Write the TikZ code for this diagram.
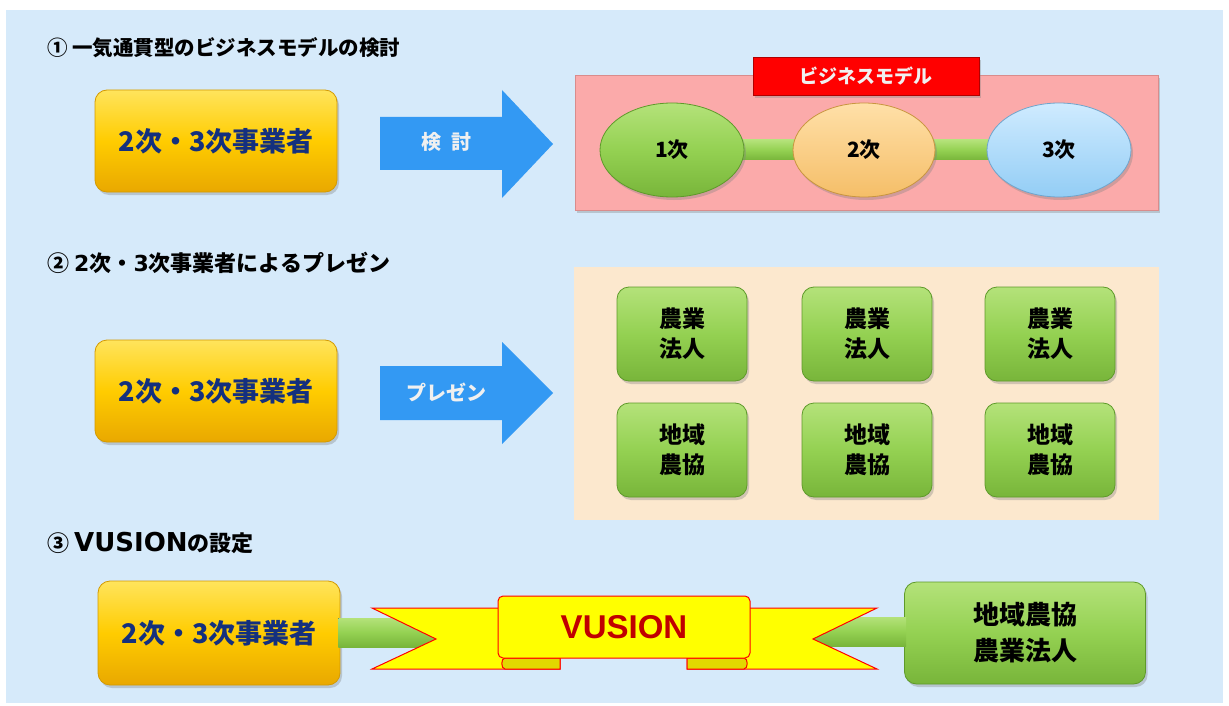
\documentclass[tikz,border=0pt]{standalone}
\usepackage{fontspec}
\setmainfont{Noto Sans CJK JP}
\newfontfamily\arialf{Liberation Sans}
\newfontfamily\dejavu{DejaVu Sans}
\newcommand{\lat}[1]{{\dejavu\bfseries #1}}
\usetikzlibrary{shapes.geometric,shadows,calc}
\definecolor{bgblue}{HTML}{D6EAFA}
\definecolor{ylTop}{HTML}{FFE45C}
\definecolor{ylMid}{HTML}{FFCC00}
\definecolor{ylBot}{HTML}{E9A800}
\definecolor{ylEdge}{HTML}{D49A00}
\definecolor{navy}{HTML}{14307E}
\definecolor{arrowblue}{HTML}{3399F3}
\definecolor{pinkbg}{HTML}{FBAAAA}
\definecolor{pinkEdge}{HTML}{D98C8C}
\definecolor{redT}{HTML}{FF0000}
\definecolor{redEdge}{HTML}{B00000}
\definecolor{grTop}{HTML}{B4E27A}
\definecolor{grMid}{HTML}{94D152}
\definecolor{grBot}{HTML}{78B53A}
\definecolor{grEdge}{HTML}{5E9A2A}
\definecolor{orTop}{HTML}{FFE0A8}
\definecolor{orBot}{HTML}{F5BE68}
\definecolor{orEdge}{HTML}{C9953F}
\definecolor{lbTop}{HTML}{CFEBFF}
\definecolor{lbBot}{HTML}{93CDF5}
\definecolor{lbEdge}{HTML}{6FA5CC}
\definecolor{beige}{HTML}{FCE8CE}
\definecolor{ribYellow}{HTML}{FFFF00}
\definecolor{foldYellow}{HTML}{E2D800}
\definecolor{ribRed}{HTML}{FF0000}
\definecolor{vusRed}{HTML}{C00000}
\definecolor{lightgrayT}{HTML}{F0F0F0}
\begin{document}
\begin{tikzpicture}[x=1pt,y=-1pt,
  heading/.style={anchor=west, inner sep=0pt, font=\fontsize{22}{26}\selectfont\bfseries},
  shadowed/.style={drop shadow={shadow xshift=2pt, shadow yshift=-3pt, opacity=0.35}},
  yellowbox/.style={shadowed, rounded corners=12pt, minimum width=242pt, minimum height=102pt,
    top color=ylTop, bottom color=ylBot, middle color=ylMid, draw=ylEdge, line width=0.8pt,
    text=navy, font=\fontsize{27}{30}\selectfont\bfseries},
  greenbox/.style={shadowed, rounded corners=12pt, minimum width=130pt, minimum height=94pt,
    top color=grTop, bottom color=grBot, middle color=grMid, draw=grEdge, line width=0.8pt,
    align=center, text=black, font=\fontsize{23}{30}\selectfont\bfseries},
  bigarrow/.style={fill=arrowblue},
  arrowlabel/.style={text=lightgrayT, font=\fontsize{20}{24}\selectfont\bfseries},
  ovalnode/.style={ellipse, shadowed, minimum width=144pt, minimum height=94pt, line width=0.8pt,
    text=black, font=\fontsize{21}{24}\selectfont\bfseries},
  bar/.style={top color=grTop, bottom color=grBot, middle color=grMid},
  ribbon/.style={fill=ribYellow, draw=ribRed, line width=1pt, line join=miter}
]
\useasboundingbox (0,0) rectangle (1229,706);
\fill[white] (0,0) rectangle (1229,706);
\fill[bgblue] (6,10) rectangle (1223,703);

% ---------- Section 1 ----------
\node[heading, font=\fontsize{20.5}{24}\selectfont\bfseries] (h1) at (47,48) {① 一気通貫型のビジネスモデルの検討};
\node[yellowbox] (y1) at (216,141) {2次・3次事業者};
\fill[bigarrow] (380,117) -- (502,117) -- (502,90) -- (553,144) -- (502,198) -- (502,170) -- (380,170) -- cycle;
\node[arrowlabel] (a1) at (446,142) {検\hspace{0.5em}討};

\node[shadowed, rectangle, fill=pinkbg, draw=pinkEdge, line width=0.8pt,
      minimum width=583pt, minimum height=135pt] (bm) at (866.5,142.5) {};
\node[shadowed, rectangle, fill=redT, draw=redEdge, line width=0.6pt,
      minimum width=226pt, minimum height=38pt, text=lightgrayT,
      font=\fontsize{19}{22}\selectfont\bfseries] (bmt) at (866,76) {ビジネスモデル};

\coordinate (c1) at (672,150);
\coordinate (c2) at (864,150);
\coordinate (c3) at (1059,150);
\fill[bar] ($(c1)+(0,-10)$) rectangle ($(c2)+(0,10)$);
\fill[bar] ($(c2)+(0,-10)$) rectangle ($(c3)+(0,10)$);
\node[ovalnode, top color=grTop, bottom color=grBot, middle color=grMid, draw=grEdge] (e1) at (c1) {1次};
\node[ovalnode, top color=orTop, bottom color=orBot, draw=orEdge, minimum width=142pt] (e2) at (c2) {2次};
\node[ovalnode, top color=lbTop, bottom color=lbBot, draw=lbEdge] (e3) at (c3) {3次};

% ---------- Section 2 ----------
\node[heading] (h2) at (47,263) {② \lat{2}次・\lat{3}次事業者によるプレゼン};
\node[yellowbox] (y2) at (216,391) {2次・3次事業者};
\fill[bigarrow] (380,366) -- (502,366) -- (502,342) -- (553,393) -- (502,444) -- (502,420) -- (380,420) -- cycle;
\node[arrowlabel] (a2) at (446,392) {プレゼン};

\node[rectangle, fill=beige, minimum width=585pt, minimum height=253pt] (panel) at (866.5,393.5) {};
\node[greenbox] (g1) at (682,334) {農業\\法人};
\node[greenbox] (g2) at (867,334) {農業\\法人};
\node[greenbox] (g3) at (1050,334) {農業\\法人};
\node[greenbox] (g4) at (682,450) {地域\\農協};
\node[greenbox] (g5) at (867,450) {地域\\農協};
\node[greenbox] (g6) at (1050,450) {地域\\農協};

% ---------- Section 3 ----------
\node[heading] (h3) at (47,543) {③ {\fontsize{26}{26}\selectfont\lat{VUSION}}の設定};
\node[yellowbox, minimum height=104pt] (y3) at (219,633) {2次・3次事業者};
\node[greenbox, minimum width=241pt, minimum height=102pt, font=\fontsize{26}{36}\selectfont\bfseries] (g7) at (1025,633) {地域農協\\農業法人};

\coordinate (ln) at (436,639);
\coordinate (rn) at (813,639);
\fill[bar] ($(y3.east)+(-2,-15)$) rectangle ($(ln)+(12,8)$);
\fill[bar] ($(rn)+(-12,-22)$) rectangle ($(g7.west)+(2,13)$);

\path[ribbon] (372,608) -- (560,608) -- (560,669) -- (372,669) -- (ln) -- cycle;
\path[ribbon] (877,608) -- (687,608) -- (687,669) -- (877,669) -- (rn) -- cycle;
\path[ribbon, fill=foldYellow] (560,658) -- (560,669) -- (505,669) to[out=180,in=180] (505,658) -- cycle;
\path[ribbon, fill=foldYellow] (687,658) -- (687,669) -- (744,669) to[out=0,in=0] (744,658) -- cycle;
\node[ribbon, rounded corners=5pt, minimum width=252pt, minimum height=62pt, text=vusRed,
      font=\arialf\fontsize{33}{36}\selectfont\bfseries] (vus) at (624,627) {VUSION};
\end{tikzpicture}
\end{document}
